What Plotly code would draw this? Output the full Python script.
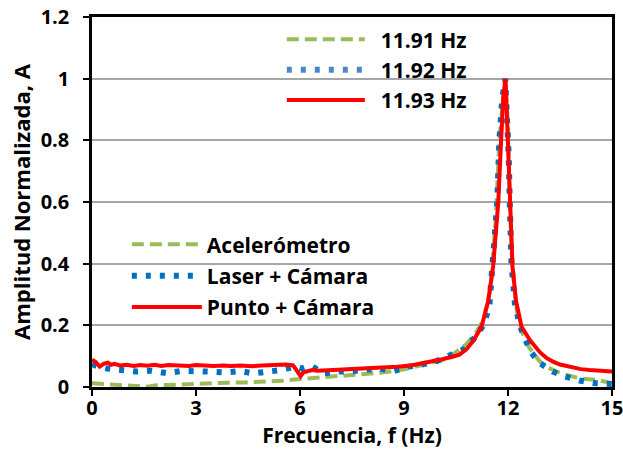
import plotly.graph_objects as go

# ---------------- data ----------------
acc_f = [0.0, 0.3, 0.75, 1.33, 1.6, 1.81, 2.39, 2.86, 3.35, 3.88, 4.41, 4.94, 5.47, 6.0,
         6.48, 6.96, 7.63, 8.31, 8.98, 9.65, 10.23, 10.81, 11.1, 11.3, 11.5, 11.65, 11.75,
         11.91, 12.0, 12.05, 12.12, 12.25, 12.4, 12.6, 12.9, 13.1, 13.4, 13.69, 14.07,
         14.56, 14.8, 14.9]
acc_a = [0.012, 0.010, 0.004, 0.002, 0.001, 0.005, 0.008, 0.009, 0.012, 0.014, 0.015, 0.017,
         0.020, 0.026, 0.030, 0.035, 0.039, 0.046, 0.057, 0.074, 0.090, 0.140, 0.180, 0.220,
         0.320, 0.550, 0.800, 1.000, 0.850, 0.600, 0.400, 0.250, 0.180, 0.130, 0.085, 0.066,
         0.050, 0.039, 0.028, 0.023, 0.017, 0.015]

las_f = [0.0, 0.2, 0.44, 0.85, 1.28, 1.71, 2.14, 2.58, 3.01, 3.42, 3.84, 4.27, 4.65, 5.06,
         5.45, 5.85, 6.05, 6.19, 6.34, 6.67, 7.06, 7.4, 7.83, 8.26, 8.7, 9.13, 9.56, 9.94,
         10.35, 10.71, 11.0, 11.29, 11.46, 11.57, 11.69, 11.75, 11.83, 11.92, 11.97, 12.02,
         12.05, 12.1, 12.2, 12.35, 12.49, 12.65, 12.92, 13.29, 13.69, 14.1, 14.54, 14.94, 15.0]
las_a = [0.075, 0.065, 0.060, 0.057, 0.050, 0.053, 0.045, 0.052, 0.052, 0.050, 0.047, 0.052,
         0.044, 0.050, 0.055, 0.066, 0.060, 0.066, 0.068, 0.044, 0.050, 0.050, 0.055, 0.060,
         0.052, 0.066, 0.074, 0.084, 0.104, 0.122, 0.155, 0.200, 0.260, 0.400, 0.600, 0.800,
         0.930, 1.000, 0.900, 0.750, 0.600, 0.400, 0.270, 0.196, 0.158, 0.115, 0.077, 0.050,
         0.033, 0.020, 0.012, 0.012, 0.010]

pun_f = [0.0, 0.1, 0.22, 0.35, 0.46, 0.55, 0.65, 0.8, 1.0, 1.2, 1.4, 1.6, 1.8, 2.0, 2.2,
         2.4, 2.6, 2.8, 3.0, 3.2, 3.5, 3.8, 4.0, 4.3, 4.6, 4.9, 5.2, 5.4, 5.6, 5.8, 5.95,
         6.02, 6.1, 6.2, 6.35, 6.5, 6.8, 7.1, 7.5, 7.9, 8.3, 8.8, 9.2, 9.5, 9.8, 10.1, 10.4,
         10.6, 10.8, 11.0, 11.24, 11.43, 11.57, 11.67, 11.72, 11.8, 11.87, 11.93, 11.99,
         12.04, 12.08, 12.13, 12.23, 12.39, 12.63, 12.92, 13.1, 13.3, 13.5, 13.7, 13.9,
         14.1, 14.36, 14.6, 14.8, 15.0]
pun_a = [0.088, 0.082, 0.066, 0.076, 0.079, 0.072, 0.075, 0.070, 0.072, 0.068, 0.071, 0.069,
         0.072, 0.068, 0.071, 0.069, 0.070, 0.068, 0.071, 0.069, 0.068, 0.070, 0.068, 0.070,
         0.067, 0.070, 0.072, 0.074, 0.073, 0.070, 0.045, 0.035, 0.048, 0.050, 0.055, 0.053,
         0.056, 0.056, 0.058, 0.060, 0.063, 0.066, 0.070, 0.076, 0.082, 0.090, 0.098, 0.105,
         0.122, 0.150, 0.196, 0.280, 0.390, 0.520, 0.600, 0.800, 0.950, 1.000, 0.800, 0.600,
         0.500, 0.390, 0.280, 0.196, 0.152, 0.113, 0.095, 0.082, 0.073, 0.067, 0.061, 0.058,
         0.055, 0.053, 0.051, 0.050]

series_names = ["Acelerómetro", "Laser + Cámara", "Punto + Cámara"]
peak_labels = ["11.91 Hz", "11.92 Hz", "11.93 Hz"]
x_ticks = [0, 3, 6, 9, 12, 15]
y_ticks = [0, 0.2, 0.4, 0.6, 0.8, 1.0, 1.2]
y_tick_text = ["0", "0.2", "0.4", "0.6", "0.8", "1", "1.2"]

# ---------------- styling ----------------
GREEN = "#9BBB59"
BLUE = "#0070C0"
BLUE_L = "#4A86C8"
RED = "#FF0000"
FONT = "Open Sans"
PAD = "\u00a0\u00a0"

styles = [
    dict(color=GREEN, width=4, dash="12px,6px"),
    dict(color=BLUE, width=6, dash="5px,9px"),
    dict(color=RED, width=4),
]
legend_styles = [
    dict(color=GREEN, width=4, dash="12px,6px"),
    dict(color=BLUE_L, width=6, dash="5px,9px"),
    dict(color=RED, width=4),
]

fig = go.Figure()

data = [(acc_f, acc_a), (las_f, las_a), (pun_f, pun_a)]
for i, ((xf, ya), name) in enumerate(zip(data, series_names)):
    fig.add_trace(go.Scatter(x=xf, y=ya, mode="lines", name=name, line=styles[i],
                             legend="legend2", legendgroup="s%d" % i, hoverinfo="skip"))

for i, lab in enumerate(peak_labels):
    fig.add_trace(go.Scatter(x=[None], y=[None], mode="lines", name=PAD + lab,
                             line=legend_styles[i], legend="legend",
                             legendgroup="p%d" % i, hoverinfo="skip"))

bold = dict(family=FONT, color="black", weight="bold")

fig.update_layout(
    width=623, height=460,
    margin=dict(l=92, r=11, t=17, b=73, autoexpand=False),
    paper_bgcolor="white", plot_bgcolor="white",
    font=dict(family=FONT, size=20, color="black"),
    xaxis=dict(range=[0, 15], tickvals=x_ticks, ticks="outside", ticklen=6, tickwidth=2,
               tickcolor="black", showline=True, linecolor="black", linewidth=2.5,
               mirror=True, showgrid=False, zeroline=False, automargin=False,
               ticklabelstandoff=-5, ticklabeloverflow="allow",
               tickfont=dict(size=20, **bold),
               title=dict(text="Frecuencia, f (Hz)", standoff=8,
                          font=dict(size=21, **bold))),
    yaxis=dict(range=[0, 1.2], tickvals=y_ticks, ticktext=y_tick_text, ticks="outside",
               ticklen=6, tickwidth=2, tickcolor="black", showline=True, linecolor="black",
               linewidth=2.5, mirror=True, showgrid=True, gridcolor="#A6A6A6",
               gridwidth=1.5, zeroline=False, automargin=False,
               ticklabelstandoff=10, ticklabeloverflow="allow",
               tickfont=dict(size=20, **bold),
               title=dict(text="Amplitud Normalizada, A", standoff=4,
                          font=dict(size=22, **bold))),
    legend=dict(x=0.365, y=0.994, xanchor="left", yanchor="top", bgcolor="rgba(0,0,0,0)",
                itemwidth=78, tracegroupgap=0, traceorder="grouped",
                font=dict(size=21, **bold)),
    legend2=dict(x=0.067, y=0.44, xanchor="left", yanchor="top", bgcolor="rgba(0,0,0,0)",
                 itemwidth=70, tracegroupgap=1, traceorder="grouped",
                 font=dict(size=21, **bold)),
    showlegend=True,
)

fig.write_html("out.html", config={"displayModeBar": False},
               post_script="document.body.style.margin='0px';")
